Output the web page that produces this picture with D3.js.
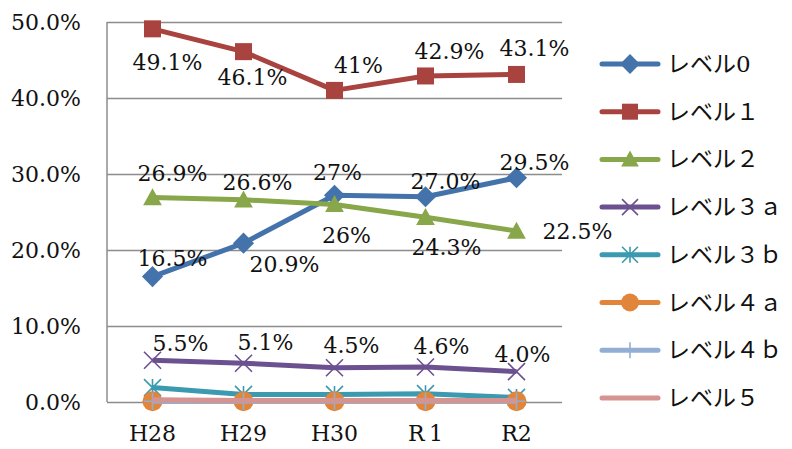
<!DOCTYPE html>
<html>
<head>
<meta charset="utf-8">
<script src="https://cdn.jsdelivr.net/npm/d3@7"></script>
<style>
  body { margin: 0; background: #fff; }
</style>
</head>
<body>
<svg width="792" height="449"></svg>
<script>
// データ
var years = ["H28", "H29", "H30", "R\u20091", "R2"];
var seriesNames = ["レベル0", "レベル１", "レベル２", "レベル３ａ", "レベル３ｂ", "レベル４ａ", "レベル４ｂ", "レベル５"];
var level0 = [16.5, 20.9, 27.2, 27.0, 29.5];
var level1 = [49.1, 46.1, 41.0, 42.9, 43.1];
var level2 = [26.9, 26.6, 26.0, 24.3, 22.5];
var level3a = [5.5, 5.1, 4.5, 4.6, 4.0];
var level3b = [1.9, 1.0, 1.0, 1.1, 0.6];
var level4a = [0.1, 0.1, 0.1, 0.1, 0.1];
var level4b = [0.1, 0.1, 0.1, 0.1, 0.1];
var level5 = [0.3, 0.2, 0.2, 0.2, 0.2];
var yTicks = [0, 10, 20, 30, 40, 50];

// 表示ラベル
var labels0 = ["16.5%", "20.9%", "27%", "27.0%", "29.5%"];
var labels1 = ["49.1%", "46.1%", "41%", "42.9%", "43.1%"];
var labels2 = ["26.9%", "26.6%", "26%", "24.3%", "22.5%"];
var labels3a = ["5.5%", "5.1%", "4.5%", "4.6%", "4.0%"];

// ラベル位置 (マーカーからのずれ)
var off0 = [[20, -18], [41, 21], [3, -23], [20, -16], [18, -16]];
var off1 = [[15, 33], [9, 26], [24, -25], [24, -25], [18, -26]];
var off2 = [[20, -24], [14, -18], [12, 31], [21, 30], [61, 0]];
var off3a = [[28, -17], [22, -21], [17, -23], [16, -21], [6, -17]];

var colors = ["#4473ab", "#a9433f", "#88a64a", "#6c5190", "#3b9ab0", "#e0853a", "#93aed3", "#d59391"];
var symbols = ["diamond", "square", "triangle", "x", "asterisk", "circle", "plus", "none"];

var allSeries = [level0, level1, level2, level3a, level3b, level4a, level4b, level5];
var allLabels = [labels0, labels1, labels2, labels3a];
var allOffsets = [off0, off1, off2, off3a];

var serif = '"DejaVu Serif", "Liberation Serif", serif';
var jp = '"DejaVu Serif", "Noto Sans CJK JP", sans-serif';

const svg = d3.select('svg');
const margin = { left: 107, top: 22, right: 230, bottom: 47 };
const innerWidth = 792 - margin.left - margin.right;
const innerHeight = 449 - margin.top - margin.bottom;

const g = svg.append('g').attr('transform', `translate(${margin.left},${margin.top})`);

const xScale = d3.scaleBand().domain(years).range([0, innerWidth]);
const yScale = d3.scaleLinear().domain([0, 50]).range([innerHeight, 0]);

// グリッド
g.append('g')
    .call(d3.axisLeft(yScale).tickValues(yTicks).tickSize(-innerWidth).tickPadding(26)
        .tickFormat(d => d.toFixed(1) + "%"))
    .call(a => a.select('.domain').remove())
    .call(a => a.selectAll('line').attr('stroke', '#8c8c8c').attr('stroke-width', 1.5))
    .call(a => a.selectAll('text').style('font-family', serif).style('font-size', '22px').attr('fill', '#111'));

g.append('line').attr('x1', 0).attr('x2', 0).attr('y1', 0).attr('y2', innerHeight)
    .attr('stroke', '#8c8c8c').attr('stroke-width', 1.5);

g.append('g')
    .attr('transform', `translate(0,${innerHeight})`)
    .call(d3.axisBottom(xScale).tickSize(0).tickPadding(23))
    .call(a => a.select('.domain').remove())
    .call(a => a.selectAll('text').style('font-family', serif).style('font-size', '22px').attr('fill', '#111'));

const xPos = d => xScale(d) + xScale.bandwidth() / 2;

function drawMarker(sel, type, color, size) {
    var s = size;
    if (type == "diamond") {
        sel.append('path').attr('d', `M0,${-s * 0.62}L${s * 0.62},0L0,${s * 0.62}L${-s * 0.62},0Z`).attr('fill', color);
    } else if (type == "square") {
        sel.append('rect').attr('x', -s / 2).attr('y', -s / 2).attr('width', s).attr('height', s).attr('fill', color);
    } else if (type == "triangle") {
        sel.append('path').attr('d', `M0,${-s * 0.55}L${s * 0.55},${s * 0.45}L${-s * 0.55},${s * 0.45}Z`).attr('fill', color);
    } else if (type == "x") {
        sel.append('path').attr('d', `M${-s / 2},${-s / 2}L${s / 2},${s / 2}M${s / 2},${-s / 2}L${-s / 2},${s / 2}`)
            .attr('stroke', color).attr('stroke-width', 1.6);
    } else if (type == "asterisk") {
        sel.append('path').attr('d', `M${-s / 2},${-s / 2}L${s / 2},${s / 2}M${s / 2},${-s / 2}L${-s / 2},${s / 2}M0,${-s / 2}L0,${s / 2}`)
            .attr('stroke', color).attr('stroke-width', 1.6);
    } else if (type == "circle") {
        sel.append('circle').attr('r', s / 2).attr('fill', color);
    } else if (type == "plus") {
        sel.append('path').attr('d', `M0,${-s / 2}L0,${s / 2}M${-s / 2},0L${s / 2},0`)
            .attr('stroke', color).attr('stroke-width', 1.6);
    }
}

const line = d3.line().x((d, i) => xPos(years[i])).y(d => yScale(d));

// 後の系列を上に重ねる
allSeries.forEach(function (vals, k) {
    g.append('path').datum(vals)
        .attr('d', line)
        .attr('fill', 'none')
        .attr('stroke', colors[k])
        .attr('stroke-width', 5)
        .attr('stroke-linejoin', 'round');
    vals.forEach(function (v, i) {
        var m = g.append('g').attr('transform', `translate(${xPos(years[i])},${yScale(v)})`);
        drawMarker(m, symbols[k], colors[k], k == 5 ? 20 : 17);
    });
});

// データラベル
allLabels.forEach(function (labs, k) {
    labs.forEach(function (t, i) {
        g.append('text')
            .attr('x', xPos(years[i]) + allOffsets[k][i][0])
            .attr('y', yScale(allSeries[k][i]) + allOffsets[k][i][1])
            .attr('dy', '0.35em')
            .attr('text-anchor', 'middle')
            .style('font-family', serif).style('font-size', '22px')
            .attr('fill', '#111')
            .text(t);
    });
});

// 凡例
const legend = svg.append('g').attr('transform', 'translate(602,64)');
seriesNames.forEach(function (n, k) {
    var row = legend.append('g').attr('transform', `translate(0,${k * 47.7})`);
    row.append('line').attr('x1', 0).attr('x2', 56).attr('y1', 0).attr('y2', 0)
        .attr('stroke', colors[k]).attr('stroke-width', 5).attr('stroke-linecap', 'round');
    var m = row.append('g').attr('transform', 'translate(28,0)');
    drawMarker(m, symbols[k], colors[k], k == 5 ? 18 : 16);
    row.append('text').attr('x', 65).attr('y', 0).attr('dy', '0.35em')
        .style('font-family', jp).style('font-size', '23px').attr('fill', '#111')
        .text(n);
});
</script>
</body>
</html>
